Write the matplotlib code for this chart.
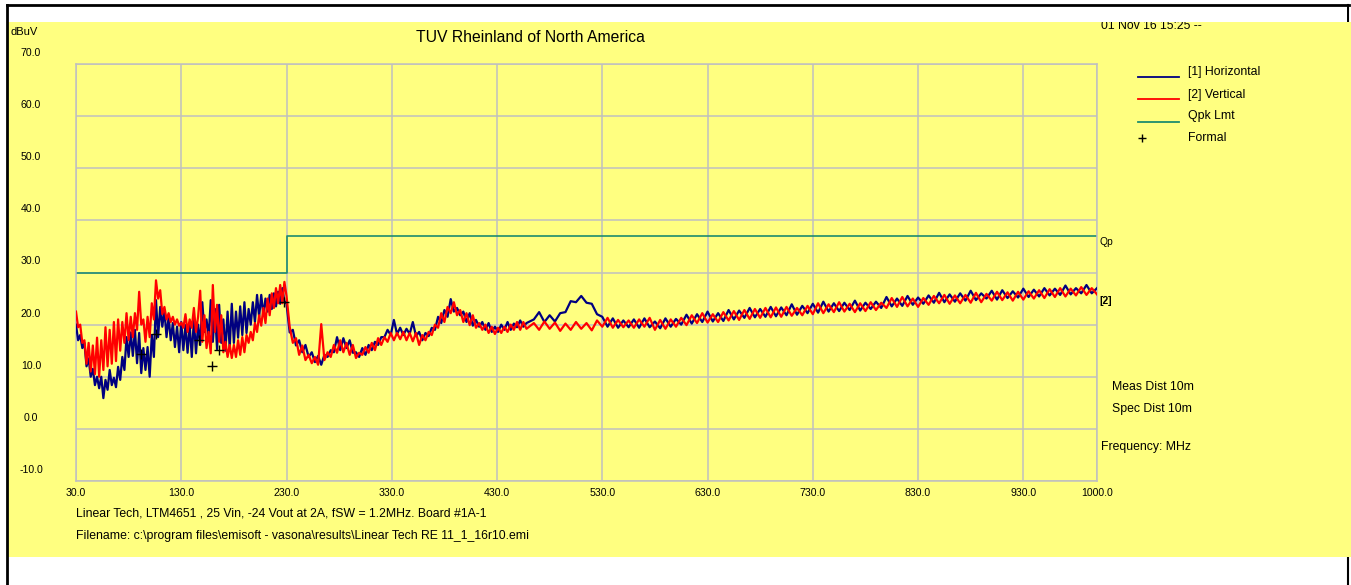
import matplotlib

matplotlib.use("Agg")  # headless
import matplotlib.pyplot as plt
from matplotlib.lines import Line2D
from matplotlib.patches import Rectangle

plt.rcParams["font.family"] = ["Liberation Sans", "DejaVu Sans"]

# --- scan data ---
# shared frequency grid of both sweeps, MHz
freq_mhz = [
    30, 32, 34, 36, 38, 40, 42, 44, 46, 48,
    50, 52, 54, 56, 58, 60, 62, 64, 66, 68,
    70, 72, 74, 76, 78, 80, 82, 84, 86, 88,
    90, 92, 94, 96, 98, 100, 102, 104, 106, 108,
    110, 112, 114, 116, 118, 120, 122, 124, 126, 128,
    130, 132, 134, 136, 138, 140, 142, 144, 146, 148,
    150, 152, 154, 156, 158, 160, 162, 164, 166, 168,
    170, 172, 174, 176, 178, 180, 182, 184, 186, 188,
    190, 192, 194, 196, 198, 200, 202, 204, 206, 208,
    210, 212, 214, 216, 218, 220, 222, 224, 226, 228,
    230,
    233, 236, 239, 242, 245, 248, 251, 254, 257, 260,
    263, 266, 269, 272, 275, 278, 281, 284, 287, 290,
    293, 296, 299, 302, 305, 308, 311, 314, 317, 320,
    323, 326, 329, 332, 335, 338, 341, 344, 347, 350,
    353, 356, 359, 362, 365, 368, 371, 374, 377, 380,
    383, 386, 389, 392, 395, 398, 401, 404, 407, 410,
    413, 416, 419, 422, 425, 428, 431, 434, 437, 440,
    443, 446, 449, 452, 455, 458,
    465, 470, 475, 480, 485, 490, 495, 500, 505, 510,
    515, 520, 525, 530, 535, 540, 545, 550, 555, 560,
    565, 570, 575, 580, 585, 590, 595, 600, 605, 610,
    615, 620, 625, 630, 635, 640, 645, 650, 655, 660,
    665, 670, 675, 680, 685, 690, 695, 700, 705, 710,
    715, 720, 725, 730, 735, 740, 745, 750, 755, 760,
    765, 770, 775, 780, 785, 790, 795, 800, 805, 810,
    815, 820, 825, 830, 835, 840, 845, 850, 855, 860,
    865, 870, 875, 880, 885, 890, 895, 900, 905, 910,
    915, 920, 925, 930, 935, 940, 945, 950, 955, 960,
    965, 970, 975, 980, 985, 990, 995, 1000,
]

# [1] Horizontal, dBuV
horizontal_dbuv = [
    20.0, 17.0, 18.0, 15.5, 16.5, 12.0, 13.5, 10.0, 11.5, 8.4,
    10.0, 7.8, 10.0, 5.9, 9.4, 7.5, 11.3, 8.4, 9.8, 8.0,
    11.9, 9.4, 13.8, 11.3, 17.6, 13.8, 18.5, 14.0, 19.0, 12.6,
    18.4, 10.7, 15.5, 11.3, 15.7, 10.0, 18.0, 13.8, 24.7, 17.6,
    23.4, 19.6, 22.8, 17.6, 21.5, 17.0, 20.3, 15.7, 19.6, 14.7,
    20.5, 15.1, 19.9, 14.6, 19.9, 13.8, 21.0, 14.5, 20.0, 16.1,
    24.3, 18.6, 21.0, 17.5, 24.7, 16.7, 23.0, 15.3, 23.8, 16.5,
    21.0, 15.0, 22.5, 15.5, 24.0, 16.5, 22.5, 17.5, 23.5, 18.0,
    24.3, 18.4, 23.0, 20.0, 24.3, 20.5, 25.7, 21.5, 25.7, 21.8,
    25.0, 22.5, 25.7, 23.0, 26.0, 23.5, 26.3, 24.0, 27.0, 24.5,
    24.0,
    18.5, 19.0, 16.0, 17.0, 14.7, 16.1, 13.8, 14.7, 12.8, 14.0,
    12.3, 14.2, 13.8, 15.1, 14.7, 17.6, 15.1, 17.4, 15.5, 17.0,
    14.6, 14.7, 13.8, 15.5, 14.2, 16.1, 15.1, 16.7, 16.1, 17.6,
    17.6, 19.0, 18.0, 20.9, 18.2, 19.4, 18.0, 19.2, 18.2, 20.5,
    17.8, 18.6, 17.0, 18.4, 17.8, 19.4, 19.0, 21.5, 20.3, 22.8,
    21.5, 24.9, 22.5, 23.2, 21.8, 22.5, 20.5, 22.2, 19.8, 20.9,
    19.6, 20.5, 19.0, 20.3, 18.6, 19.6, 18.6, 20.0, 19.0, 20.5,
    19.0, 20.2, 19.5, 20.8, 19.6, 20.3,
    21.0, 22.4, 20.5, 21.8, 20.6, 22.2, 22.4, 24.5, 24.3, 25.5,
    24.2, 24.0, 22.0, 21.5, 19.6, 21.2, 19.4, 20.8, 19.5, 21.0,
    19.4, 21.2, 19.5, 20.6, 19.3, 21.2, 19.6, 21.1, 20.0, 21.9,
    20.2, 22.0, 20.5, 22.5, 20.6, 22.2, 20.7, 22.8, 21.0, 22.7,
    21.3, 23.2, 21.4, 23.0, 21.5, 23.4, 21.6, 23.3, 21.8, 23.9,
    21.9, 23.6, 22.2, 24.0, 22.3, 24.4, 22.5, 24.1, 22.6, 24.2,
    22.8, 24.6, 22.7, 24.2, 23.0, 24.4, 23.2, 25.3, 23.5, 25.0,
    23.6, 25.5, 23.8, 25.2, 24.0, 25.6, 24.2, 26.1, 24.3, 25.8,
    24.4, 26.0, 24.6, 26.5, 24.7, 26.0, 25.0, 26.5, 24.8, 26.6,
    25.1, 26.4, 25.2, 26.9, 25.3, 26.7, 25.4, 27.0, 25.6, 26.9,
    25.7, 27.5, 25.8, 27.0, 26.0, 27.6, 26.0, 27.0,
]

# [2] Vertical, dBuV
vertical_dbuv = [
    22.5, 19.5, 20.0, 16.5, 17.0, 12.5, 16.5, 11.0, 16.0, 10.5,
    17.5, 10.0, 17.0, 11.3, 19.5, 12.0, 19.0, 12.5, 20.5, 13.0,
    21.0, 15.0, 20.5, 16.5, 22.2, 17.0, 21.5, 17.6, 22.2, 19.0,
    26.3, 20.0, 21.0, 16.7, 21.5, 17.6, 24.1, 21.0, 28.5, 25.0,
    26.6, 22.0, 23.4, 21.0, 22.2, 20.5, 21.5, 20.0, 21.0, 19.8,
    20.4, 19.4, 22.0, 18.6, 21.0, 19.4, 23.2, 18.6, 21.5, 26.5,
    16.7, 21.8, 15.5, 18.6, 14.5, 27.6, 18.6, 23.8, 16.7, 21.8,
    14.7, 16.7, 13.8, 16.1, 13.6, 16.1, 13.8, 17.0, 14.2, 17.6,
    14.7, 18.0, 16.5, 18.6, 17.0, 20.3, 18.6, 21.8, 19.8, 23.2,
    20.3, 25.0, 21.8, 26.0, 23.2, 27.0, 24.1, 27.6, 24.1, 28.2,
    25.5,
    19.6, 16.5, 17.4, 14.2, 16.0, 13.2, 14.2, 12.6, 13.8, 12.3,
    20.1, 13.2, 14.7, 13.8, 16.1, 14.6, 17.0, 14.7, 16.5, 14.2,
    16.1, 13.6, 14.6, 14.2, 15.7, 14.6, 16.5, 15.1, 17.4, 16.1,
    17.6, 16.7, 18.4, 17.0, 18.4, 17.2, 18.6, 17.0, 18.4, 16.8,
    18.4, 16.1, 18.0, 17.0, 18.6, 18.0, 20.0, 19.4, 22.2, 20.5,
    23.4, 22.2, 24.3, 21.8, 22.8, 20.5, 22.2, 19.9, 21.8, 19.4,
    20.3, 19.0, 20.0, 18.4, 19.6, 18.2, 19.4, 18.4, 19.6, 18.6,
    20.0, 19.0, 20.5, 19.0, 20.5, 19.2,
    20.3, 19.0, 20.6, 19.2, 20.4, 18.8, 20.2, 19.0, 20.5, 19.2,
    20.3, 18.9, 20.8, 19.6, 21.3, 19.4, 20.9, 19.5, 20.8, 19.4,
    21.0, 19.6, 21.3, 19.0, 20.9, 19.2, 21.0, 19.6, 21.3, 19.9,
    21.8, 20.3, 22.2, 20.4, 22.0, 20.5, 22.4, 20.8, 22.6, 20.9,
    22.8, 21.1, 23.0, 21.3, 23.2, 21.4, 23.3, 21.5, 23.4, 21.7,
    23.2, 21.8, 23.6, 22.0, 24.1, 22.2, 23.9, 22.4, 24.3, 22.5,
    24.0, 22.4, 24.1, 22.6, 24.3, 22.8, 24.2, 23.2, 25.1, 23.4,
    25.3, 23.5, 25.0, 23.4, 25.1, 23.8, 25.5, 24.1, 25.7, 24.0,
    25.6, 24.1, 25.7, 24.2, 26.1, 24.3, 25.9, 24.6, 26.3, 24.7,
    26.2, 24.6, 26.3, 24.8, 26.4, 25.0, 26.6, 25.1, 26.8, 25.3,
    27.0, 25.4, 26.9, 25.6, 27.2, 25.7, 27.0, 25.8,
]

# quasi-peak limit (step at 230 MHz)
limit_freq = [30, 230, 230, 1000]
limit_dbuv = [30, 30, 37, 37]

# formal (final) measurement points
formal_freq = [91.8, 106.0, 146.9, 159.2, 165.9, 227.6]
formal_dbuv = [14.4, 18.2, 17.1, 12.1, 15.1, 24.3]

x_ticks = [30, 130, 230, 330, 430, 530, 630, 730, 830, 930, 1000]
y_ticks = [-10, 0, 10, 20, 30, 40, 50, 60, 70]

YELLOW = "#ffff80"
NAVY = "#000080"
RED = "#ff0000"
TEAL = "#1e8c6e"
GRID = "#c0c0c0"

W, H = 1351, 585


def fx(px):
    return px / W


def fy(py):
    return 1 - py / H


fig = plt.figure(figsize=(W / 100, H / 100), dpi=100, facecolor="white")

# --- page frame ---
fig.add_artist(Line2D([fx(1348)] * 2, [fy(5), 0], color="black", lw=1.5, zorder=-2))
fig.add_artist(Rectangle((fx(8), fy(557)), fx(W) - fx(8), fy(22) - fy(557),
                         facecolor=YELLOW, edgecolor="none", zorder=-1))
fig.add_artist(Rectangle((fx(8), fy(22)), fx(1347) - fx(8), fy(6) - fy(22),
                         facecolor="white", edgecolor="none", zorder=4))
fig.add_artist(Line2D([fx(7), fx(1349)], [fy(5), fy(5)], color="black", lw=2, zorder=5))
fig.add_artist(Line2D([fx(7)] * 2, [fy(5), 0], color="black", lw=2, zorder=5))

# --- plot area ---
ax = fig.add_axes([fx(76), fy(481), fx(1097) - fx(76), fy(64) - fy(481)])
ax.set_facecolor("none")
ax.set_xlim(30, 1000)
ax.set_ylim(-10, 70)
ax.set_xticks(x_ticks)
ax.set_xticklabels([f"{v:.1f}" for v in x_ticks], fontsize=7.6)
ax.set_yticks(y_ticks)
ax.set_yticklabels([])
ax.tick_params(length=0, pad=5)
ax.grid(True, color=GRID, lw=1.1)
ax.set_axisbelow(True)
for s in ax.spines.values():
    s.set_color(GRID)
    s.set_linewidth(1.1)

# y labels sit above their grid lines in the original
for v in y_ticks:
    ax.annotate(f"{v:.1f}", xy=(0, v), xycoords=("axes fraction", "data"),
                xytext=(31 - 76, 11), textcoords="offset pixels",
                ha="center", va="center", fontsize=7.6, annotation_clip=False)

ax.plot(limit_freq, limit_dbuv, color=TEAL, lw=1.2, zorder=2.5)
ax.plot(freq_mhz, horizontal_dbuv, color=NAVY, lw=1.6, zorder=3)
ax.plot(freq_mhz, vertical_dbuv, color=RED, lw=1.6, zorder=4)
ax.plot(formal_freq, formal_dbuv, ls="none", marker="+", color="black",
        ms=7, mew=1.0, zorder=5)

# --- texts ---
fig.text(fx(530), fy(37), "TUV Rheinland of North America", ha="center", va="center", fontsize=11.3)
fig.text(fx(11), fy(32), "dBuV", ha="left", va="center", fontsize=8)
fig.text(fx(1101), fy(26), "01 Nov 16 15:25 --", ha="left", va="center", fontsize=8.8)
fig.text(fx(1099), fy(242), "Qp", ha="left", va="center", fontsize=7.4)
fig.text(fx(1099), fy(301), "[2]", ha="left", va="center", fontsize=7.4, fontweight="bold")
fig.text(fx(1112), fy(387), "Meas Dist 10m", ha="left", va="center", fontsize=8.8)
fig.text(fx(1112), fy(409), "Spec Dist 10m", ha="left", va="center", fontsize=8.8)
fig.text(fx(1101), fy(447), "Frequency: MHz", ha="left", va="center", fontsize=8.8)
fig.text(fx(76), fy(514), "Linear Tech, LTM4651 , 25 Vin, -24 Vout at 2A, fSW = 1.2MHz. Board #1A-1",
         ha="left", va="center", fontsize=8.8)
fig.text(fx(76), fy(536),
         r"Filename: c:\program files\emisoft - vasona\results\Linear Tech RE 11_1_16r10.emi",
         ha="left", va="center", fontsize=8.8)

# --- legend, drawn by hand like the original ---
legend_rows = [("[1] Horizontal", NAVY, 77, 72), ("[2] Vertical", RED, 99, 95),
               ("Qpk Lmt", TEAL, 122, 116)]
for label, color, line_y, text_y in legend_rows:
    fig.add_artist(Line2D([fx(1138), fx(1179)], [fy(line_y)] * 2, color=color, lw=1.3))
    fig.text(fx(1188), fy(text_y), label, ha="left", va="center", fontsize=8.8)
fig.add_artist(Line2D([fx(1142)], [fy(138)], ls="none", marker="+", color="black", ms=6, mew=1.0))
fig.text(fx(1188), fy(138), "Formal", ha="left", va="center", fontsize=8.8)

fig.savefig("out.png", dpi=100)
